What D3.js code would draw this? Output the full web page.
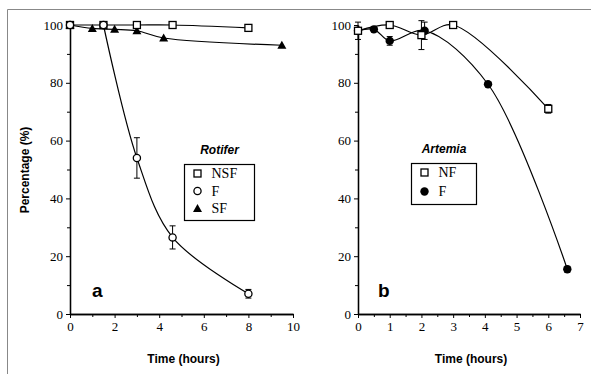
<!DOCTYPE html>
<html>
<head>
<meta charset="utf-8">
<script src="https://cdn.jsdelivr.net/npm/d3@7"></script>
<style>
	body { margin: 0; background: #fff; }
</style>
</head>
<body>
<script>
// panel a : Rotifer
var rotNSF = [[0, 100], [1.5, 100], [3, 100], [4.6, 100], [8, 99]];
var rotF   = [[0, 100], [1.5, 100], [3, 54], [4.6, 26.5], [8, 7]];
var rotFErr = [0, 0, 7, 4, 1.5];
var rotSF  = [[0, 100], [1, 98.8], [2, 98.5], [3, 98], [4.2, 95.5], [9.5, 93]];

// panel b : Artemia
var artNF  = [[0, 98], [1, 100], [2, 96.5], [3, 100], [6, 71]];
var artNFErr = [0, 0, 5, 0, 1.5];
var artF   = [[0, 98], [0.5, 98.5], [1, 94.5], [2.1, 98], [4.1, 79.5], [6.6, 15.5]];
var artFErr = [3, 0, 1.5, 3, 0, 1];

var yMajor = [0, 20, 40, 60, 80, 100];
var yMinor = [10, 30, 50, 70, 90];
var xMajorA = [0, 2, 4, 6, 8, 10];
var xMinorA = [1, 3, 5, 7, 9];
var xMajorB = [0, 1, 2, 3, 4, 5, 6, 7];
var xMinorB = [0.5, 1.5, 2.5, 3.5, 4.5, 5.5, 6.5];

var SERIF = '"Liberation Serif", "Times New Roman", serif';
var SANS = '"Liberation Sans", Arial, sans-serif';

var svg = d3.select('body').append('svg')
	.attr('width', 591)
	.attr('height', 374);

// scanned page border
svg.append('path')
	.attr('d', 'M7.5,374 L7.5,9.5 L591,9.5')
	.attr('fill', 'none')
	.attr('stroke', '#888')
	.attr('stroke-width', 1);

var y = d3.scaleLinear().domain([0, 100]).range([314, 25]);

function boldText(sel, size){
	return sel.attr('font-family', SANS)
		.attr('font-weight', 'bold')
		.attr('font-size', size);
}

function drawMarker(g, type, cx, cy){
	if (type === 'square'){
		g.append('rect')
			.attr('x', cx - 3.5).attr('y', cy - 3.5)
			.attr('width', 7).attr('height', 7)
			.attr('fill', '#fff').attr('stroke', '#000').attr('stroke-width', 1.3);
	} else if (type === 'circle'){
		g.append('circle')
			.attr('cx', cx).attr('cy', cy).attr('r', 3.6)
			.attr('fill', '#fff').attr('stroke', '#000').attr('stroke-width', 1.3);
	} else if (type === 'dot'){
		g.append('circle')
			.attr('cx', cx).attr('cy', cy).attr('r', 4.2)
			.attr('fill', '#000');
	} else if (type === 'tri'){
		g.append('path')
			.attr('d', 'M' + cx + ',' + (cy - 4.5) + ' L' + (cx + 4.5) + ',' + (cy + 3.5) + ' L' + (cx - 4.5) + ',' + (cy + 3.5) + 'Z')
			.attr('fill', '#000');
	}
}

function panel(opts){
	var x = d3.scaleLinear().domain(opts.xDomain).range(opts.xRange);
	var g = svg.append('g');

	// y axis
	g.append('g')
		.attr('transform', 'translate(' + opts.xRange[0] + ',0)')
		.call(d3.axisLeft(y).tickValues(yMinor).tickSize(3).tickFormat('').tickSizeOuter(0));
	g.append('g')
		.attr('transform', 'translate(' + opts.xRange[0] + ',0)')
		.call(d3.axisLeft(y).tickValues(yMajor).tickSize(4).tickPadding(3).tickFormat(d3.format('d')).tickSizeOuter(0));

	// x axis
	g.append('g')
		.attr('transform', 'translate(0,' + y(0) + ')')
		.call(d3.axisBottom(x).tickValues(opts.xMinor).tickSize(3).tickFormat('').tickSizeOuter(0));
	g.append('g')
		.attr('transform', 'translate(0,' + y(0) + ')')
		.call(d3.axisBottom(x).tickValues(opts.xMajor).tickSize(4).tickPadding(4).tickFormat(d3.format('d')).tickSizeOuter(0));

	g.selectAll('.domain').attr('stroke', '#000').attr('stroke-width', 1.3);
	g.selectAll('.tick line').attr('stroke', '#000');
	g.selectAll('.tick text')
		.style('font-family', SERIF)
		.style('font-size', '13px')
		.attr('fill', '#000');

	// lines first, then error bars, then markers
	opts.series.forEach(function(s){
		var line = d3.line()
			.x(function(d){ return x(d[0]); })
			.y(function(d){ return y(d[1]); })
			.curve(d3.curveCatmullRom.alpha(0.5));
		g.append('path')
			.datum(s.data.slice(s.lineFrom || 0))
			.attr('d', line)
			.attr('fill', 'none')
			.attr('stroke', '#000')
			.attr('stroke-width', 1.2);
	});
	opts.series.forEach(function(s){
		if (!s.err) return;
		s.data.forEach(function(d, i){
			var e = s.err[i];
			if (!e) return;
			var cx = x(d[0]);
			var y1 = y(d[1] + e), y2 = y(d[1] - e);
			g.append('path')
				.attr('d', 'M' + cx + ',' + y1 + ' L' + cx + ',' + y2 +
					' M' + (cx - 3) + ',' + y1 + ' L' + (cx + 3) + ',' + y1 +
					' M' + (cx - 3) + ',' + y2 + ' L' + (cx + 3) + ',' + y2)
				.attr('fill', 'none')
				.attr('stroke', '#000')
				.attr('stroke-width', 1);
		});
	});
	opts.series.forEach(function(s){
		s.data.forEach(function(d){
			drawMarker(g, s.marker, x(d[0]), y(d[1]));
		});
	});

	// legend
	var L = opts.legend;
	boldText(g.append('text'), 12)
		.attr('x', (L.x0 + L.x1) / 2)
		.attr('y', L.y0 - 11)
		.attr('text-anchor', 'middle')
		.attr('font-style', 'italic')
		.text(opts.title);
	g.append('rect')
		.attr('x', L.x0).attr('y', L.y0)
		.attr('width', L.x1 - L.x0).attr('height', L.y1 - L.y0)
		.attr('fill', '#fff').attr('stroke', '#000').attr('stroke-width', 1.2);
	opts.legendItems.forEach(function(s, i){
		var ly = L.y0 + 9 + i * L.step;
		drawMarker(g, s.marker, L.x0 + 13, ly);
		g.append('text')
			.attr('x', L.x0 + 27)
			.attr('y', ly + 4.5)
			.attr('font-family', SERIF)
			.attr('font-size', 14)
			.text(s.name);
	});

	// panel letter
	boldText(g.append('text'), 19)
		.attr('x', opts.letterX)
		.attr('y', 297)
		.text(opts.letter);

	// x label
	boldText(g.append('text'), 12)
		.attr('x', (opts.xRange[0] + opts.xRange[1]) / 2 + 2)
		.attr('y', 363)
		.attr('text-anchor', 'middle')
		.text('Time (hours)');
}

panel({
	xDomain: [0, 10], xRange: [70, 293],
	xMajor: xMajorA, xMinor: xMinorA,
	series: [
		{ name: 'SF', marker: 'tri', data: rotSF },
		{ name: 'NSF', marker: 'square', data: rotNSF },
		{ name: 'F', marker: 'circle', data: rotF, err: rotFErr, lineFrom: 1 }
	],
	legendItems: [
		{ name: 'NSF', marker: 'square' },
		{ name: 'F', marker: 'circle' },
		{ name: 'SF', marker: 'tri' }
	],
	title: 'Rotifer',
	legend: { x0: 184.5, x1: 254.5, y0: 164.5, y1: 220.5, step: 17.5 },
	letter: 'a', letterX: 92
});

panel({
	xDomain: [0, 7], xRange: [358, 580],
	xMajor: xMajorB, xMinor: xMinorB,
	series: [
		{ name: 'F', marker: 'dot', data: artF, err: artFErr },
		{ name: 'NF', marker: 'square', data: artNF, err: artNFErr }
	],
	legendItems: [
		{ name: 'NF', marker: 'square' },
		{ name: 'F', marker: 'dot' }
	],
	title: 'Artemia',
	legend: { x0: 411.5, x1: 476.5, y0: 163.5, y1: 204.5, step: 19 },
	letter: 'b', letterX: 378
});

// y label
boldText(svg.append('text'), 12)
	.attr('transform', 'translate(29,170) rotate(-90)')
	.attr('text-anchor', 'middle')
	.text('Percentage (%)');
</script>
</body>
</html>
